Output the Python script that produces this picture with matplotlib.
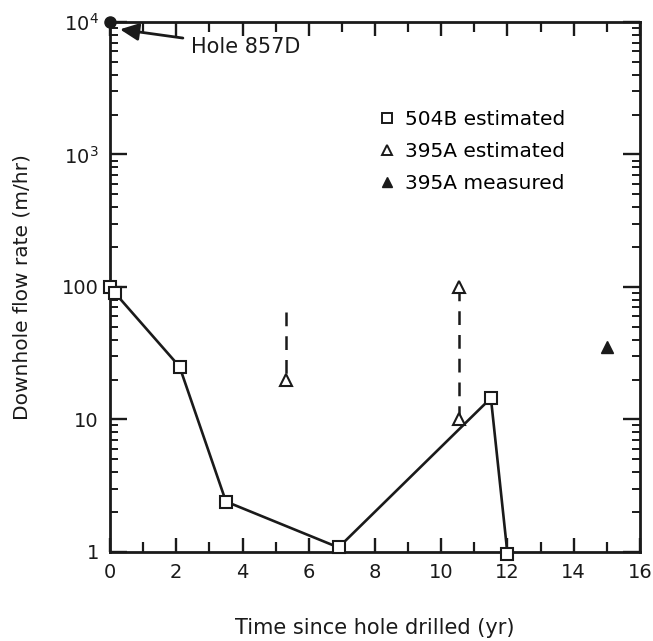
import matplotlib
matplotlib.use("Agg")
import matplotlib.pyplot as plt
from matplotlib.lines import Line2D
from matplotlib.ticker import FixedLocator, LogLocator, NullFormatter, MultipleLocator

plt.rcParams['font.family'] = ['DejaVu Sans']
plt.rcParams['mathtext.fontset'] = 'dejavusans'

INK = '#1a1a1a'

# Hole 504B, estimated downhole flow
t_504b = [0.0, 0.15, 2.1, 3.5, 6.9, 11.5, 12.0]
q_504b = [100, 90, 25, 2.4, 1.08, 14.5, 0.97]

# Hole 395A, estimated ranges (lower, upper) at each time
t_395a_est = [5.3, 10.55]
q_395a_low = [20, 10]
q_395a_high = [65, 100]
# which ends of each range carry a marker
t_395a_pts = [5.3, 10.55, 10.55]
q_395a_pts = [20, 10, 100]

# Hole 395A, measured
t_395a_meas = [15.0]
q_395a_meas = [35]

# Hole 857D
t_857d = [0.0]
q_857d = [1e4]

y_ticks = [1, 10, 100, 1e3, 1e4]
y_ticklabels = ['1', '10', '100', r'$\mathregular{10^3}$', r'$\mathregular{10^4}$']
x_ticks = [0, 2, 4, 6, 8, 10, 12, 14, 16]

fig = plt.figure(figsize=(6.53, 6.41), dpi=100)
ax = fig.add_axes([0.1685, 0.139, 0.8115, 0.8267])

ax.set_yscale('log')
ax.set_xlim(0, 16)
ax.set_ylim(1, 1e4)

# 504B line with open squares
ax.plot(t_504b, q_504b, color=INK, lw=1.9, marker='s', ms=8.5,
        mfc='white', mec=INK, mew=1.5, clip_on=False, zorder=3)

# 395A estimated ranges as dashed verticals, dashes laid from the top down
for t, lo, hi in zip(t_395a_est, q_395a_low, q_395a_high):
    ax.plot([t, t], [hi, lo], color=INK, lw=1.8, ls=(0, (5.5, 4)), zorder=2)
ax.plot(t_395a_pts, q_395a_pts, ls='none', marker='^', ms=8, mfc='white',
        mec=INK, mew=1.5, zorder=4)

# 395A measured
ax.plot(t_395a_meas, q_395a_meas, ls='none', marker='^', ms=8.5, color=INK, zorder=4)

# 857D
ax.plot(t_857d, q_857d, ls='none', marker='o', ms=8, color=INK,
        clip_on=False, zorder=5)
ax.annotate('Hole 857D', xy=(0.3, 8800), xytext=(2.45, 6500),
            fontsize=15, va='center', ha='left', color=INK,
            arrowprops=dict(arrowstyle='-|>,head_length=0.75,head_width=0.35',
                            color=INK, lw=2.0, shrinkA=4, shrinkB=0))

# axes styling
for sp in ax.spines.values():
    sp.set_linewidth(2.0)
    sp.set_color(INK)

ax.xaxis.set_major_locator(FixedLocator(x_ticks))
ax.xaxis.set_minor_locator(MultipleLocator(1))
ax.yaxis.set_major_locator(FixedLocator(y_ticks))
ax.set_yticklabels(y_ticklabels)
ax.yaxis.set_minor_locator(LogLocator(base=10, subs=range(2, 10), numticks=20))
ax.yaxis.set_minor_formatter(NullFormatter())

ax.tick_params(which='both', direction='in', top=True, right=True,
               color=INK, labelsize=14, labelcolor=INK)
ax.tick_params(axis='x', which='major', length=10, width=1.7, pad=8)
ax.tick_params(axis='x', which='minor', length=7, width=1.6)
ax.tick_params(axis='y', which='major', length=12, width=1.7, pad=8)
ax.tick_params(axis='y', which='minor', length=6, width=1.4)

ax.set_xlabel('Time since hole drilled (yr)', fontsize=15, labelpad=26, color=INK)
ax.set_ylabel('Downhole flow rate (m/hr)', fontsize=14.5, labelpad=22, color=INK)

handles = [
    Line2D([], [], ls='none', marker='s', ms=7, mfc='white', mec=INK, mew=1.4),
    Line2D([], [], ls='none', marker='^', ms=7, mfc='white', mec=INK, mew=1.4),
    Line2D([], [], ls='none', marker='^', ms=7, color=INK),
]
labels = ['504B estimated', '395A estimated', '395A measured']
ax.legend(handles, labels, loc='upper left', bbox_to_anchor=(0.508, 0.833),
          frameon=False, fontsize=14.5, handlelength=0.8, handletextpad=0.5,
          labelspacing=0.64, borderpad=0, borderaxespad=0)

fig.savefig('out.png', dpi=100)
